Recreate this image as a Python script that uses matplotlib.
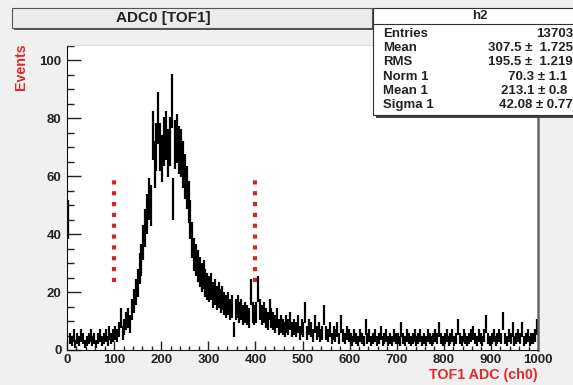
import numpy as np
import matplotlib
matplotlib.use("Agg")
import matplotlib.pyplot as plt
from matplotlib.patches import Rectangle
from matplotlib.ticker import MultipleLocator

plt.rcParams["font.family"] = ["Liberation Sans", "DejaVu Sans"]
plt.rcParams["font.weight"] = "bold"

# ---- data -------------------------------------------------------------
adc_range = (0, 1000)
counts = [
    # 0 - 100
    45, 4, 3, 5, 2, 4, 3, 5, 4, 2, 3, 4, 5, 3, 4, 2, 4, 5, 3, 4, 5, 3, 6, 4, 5,
    # 100 - 152
    6, 5, 7, 11, 6, 8, 10, 11, 9, 14, 17, 20, 23,
    # 152 - 200
    28, 31, 37, 42, 47, 52, 50, 74, 64, 70, 80, 70,
    # 200 - 252
    66, 72, 74, 68, 72, 86, 52, 71, 73, 69, 68, 64, 60,
    # 252 - 300
    56, 51, 45, 38, 33, 31, 29, 27, 25, 26, 23, 22,
    # 300 - 400
    21, 22, 19, 20, 18, 19, 17, 18, 16, 15, 16, 14, 15, 7, 14, 15, 13, 14, 12, 13, 12, 11, 20, 13, 12,
    # 400 - 500
    13, 21, 14, 12, 13, 11, 10, 14, 11, 10, 9, 11, 8, 9, 8, 7, 9, 8, 10, 7, 8, 7, 9, 6, 8,
    # 500 - 600
    7, 13, 6, 8, 7, 5, 9, 6, 7, 5, 6, 12, 6, 5, 7, 4, 6, 5, 7, 4, 9, 5, 4, 6, 5,
    # 600 - 700
    4, 3, 5, 4, 3, 5, 4, 3, 8, 4, 5, 3, 4, 5, 3, 4, 6, 3, 4, 5, 3, 4, 3, 5, 4,
    # 700 - 800
    4, 3, 7, 4, 3, 5, 4, 3, 4, 5, 3, 4, 5, 3, 4, 3, 5, 4, 3, 4, 5, 4, 7, 4, 3,
    # 800 - 900
    4, 5, 3, 4, 5, 3, 4, 8, 4, 3, 5, 4, 3, 4, 5, 6, 4, 3, 5, 4, 3, 5, 9, 4, 3,
    # 900 - 1000
    4, 5, 3, 4, 5, 4, 10, 4, 3, 5, 4, 7, 3, 4, 5, 4, 7, 3, 4, 5, 3, 4, 4, 5, 8,
]
cut_positions = [100, 400]
cut_span = (23.5, 59)

hist_title = "ADC0 [TOF1]"
x_title = "TOF1 ADC (ch0)"
y_title = "Events"
stats_name = "h2"
stats_labels = ["Entries", "Mean", "RMS", "Norm 1", "Mean 1", "Sigma 1"]
stats_values = ["13703", "307.5 \u00b1  1.725", "195.5 \u00b1  1.219",
                "70.3 \u00b1 1.1", "213.1 \u00b1 0.8", "42.08 \u00b1 0.77"]

# ---- figure -----------------------------------------------------------
W, H = 573, 385
fig = plt.figure(figsize=(W / 100, H / 100), dpi=100, facecolor="#f0f0f0")


def fx(x):
    return x / W


def fy(y):
    return 1 - y / H


ax = fig.add_axes([fx(67), fy(350), fx(538) - fx(67), fy(45) - fy(350)])
ax.set_facecolor("white")

counts_arr = np.asarray(counts, dtype=float)
edges = np.linspace(adc_range[0], adc_range[1], len(counts) + 1)
centers = 0.5 * (edges[:-1] + edges[1:])
half_w = 0.5 * np.diff(edges)
ax.errorbar(centers, counts_arr, xerr=half_w, yerr=np.sqrt(counts_arr),
            fmt="none", ecolor="black", elinewidth=1.6, capsize=0)

for xc in cut_positions:
    ax.plot([xc, xc], cut_span, color="#d42525", linewidth=3,
            linestyle=(0, (1, 1.6)), dash_capstyle="butt")

ax.set_xlim(*adc_range)
ax.set_ylim(0, 105.2)

ax.xaxis.set_major_locator(MultipleLocator(100))
ax.xaxis.set_minor_locator(MultipleLocator(20))
ax.yaxis.set_major_locator(MultipleLocator(20))
ax.yaxis.set_minor_locator(MultipleLocator(5))
ax.tick_params(axis="both", which="both", direction="in", colors="#222222",
               labelsize=9.5)
ax.tick_params(axis="y", which="major", length=10, width=1, pad=4)
ax.tick_params(axis="y", which="minor", length=5, width=1)
ax.tick_params(axis="x", which="major", length=6.5, width=1, pad=3)
ax.tick_params(axis="x", which="minor", length=3.2, width=1)

ax.spines["left"].set_color("#111111")
ax.spines["bottom"].set_color("#111111")
ax.spines["right"].set_color("#666666")
ax.spines["right"].set_linewidth(1.8)
ax.spines["top"].set_color("#dcdcdc")

# axis titles
fig.text(fx(21), fy(43), y_title, rotation=90, ha="center", va="top",
         color="#e02a2a", fontsize=10.3, fontweight="bold")
fig.text(fx(538), fy(375), x_title, ha="right", va="center",
         color="#e02a2a", fontsize=10.3, fontweight="bold")

# title box
fig.add_artist(Rectangle((fx(14), fy(30)), fx(360), fy(0) - fy(20),
                         transform=fig.transFigure, facecolor="#555555",
                         edgecolor="none"))
fig.add_artist(Rectangle((fx(12), fy(28)), fx(360), fy(0) - fy(20),
                         transform=fig.transFigure, facecolor="#ebebeb",
                         edgecolor="#555555", linewidth=0.8))
fig.text(fx(163), fy(18), hist_title, ha="center", va="center",
         fontsize=11, fontweight="bold", color="#222222")

# statistics box
fig.add_artist(Rectangle((fx(376), fy(118)), fx(230), fy(0) - fy(107),
                         transform=fig.transFigure, facecolor="#444444",
                         edgecolor="none"))
fig.add_artist(Rectangle((fx(373), fy(115)), fx(230), fy(0) - fy(107),
                         transform=fig.transFigure, facecolor="white",
                         edgecolor="#333333", linewidth=0.8))
fig.add_artist(plt.Line2D([fx(373), fx(600)], [fy(24), fy(24)],
                          transform=fig.transFigure, color="#333333",
                          linewidth=0.8))
fig.text(fx(480), fy(16), stats_name, ha="center", va="center",
         fontsize=9.5, color="#222222")
row_y = [34, 48, 62, 77, 91, 105]
row_right = [573, 573, 573, 567, 567, 573]
for lab, val, yy, xr in zip(stats_labels, stats_values, row_y, row_right):
    fig.text(fx(383), fy(yy), lab, ha="left", va="center",
             fontsize=9.5, color="#222222")
    fig.text(fx(xr), fy(yy), val, ha="right", va="center",
             fontsize=9.5, color="#222222")

fig.savefig("out.png", dpi=100, facecolor=fig.get_facecolor())
